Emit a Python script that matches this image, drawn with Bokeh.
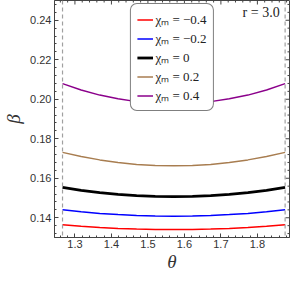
import math
from bokeh.plotting import figure
from bokeh.models import (Span, Label, Legend, LegendItem, Range1d,
                          BasicTicker, NumeralTickFormatter)
from bokeh.embed import file_html
from bokeh.resources import INLINE

theta = [1.266, 1.317, 1.368, 1.418, 1.469, 1.520, 1.571, 1.622, 1.672, 1.723, 1.774, 1.825, 1.876]
beta_m04 = [0.1365, 0.1357, 0.1351, 0.1346, 0.1343, 0.1341, 0.1340, 0.1341, 0.1343, 0.1346, 0.1351, 0.1357, 0.1365]
beta_m02 = [0.1440, 0.1430, 0.1422, 0.1416, 0.1411, 0.1409, 0.1408, 0.1409, 0.1411, 0.1416, 0.1422, 0.1430, 0.1440]
beta_0 = [0.1554, 0.1539, 0.1527, 0.1518, 0.1512, 0.1508, 0.1507, 0.1508, 0.1512, 0.1518, 0.1527, 0.1539, 0.1554]
beta_p02 = [0.1731, 0.1710, 0.1693, 0.1680, 0.1670, 0.1665, 0.1663, 0.1665, 0.1670, 0.1680, 0.1693, 0.1710, 0.1731]
beta_p04 = [0.2079, 0.2047, 0.2021, 0.2002, 0.1988, 0.1980, 0.1977, 0.1980, 0.1988, 0.2002, 0.2021, 0.2047, 0.2079]
labels = ["χₘ = −0.4", "χₘ = −0.2", "χₘ = 0", "χₘ = 0.2", "χₘ = 0.4"]
colors = ["#ff0000", "#0000ff", "#000000", "#a87d50", "#8b008b"]
widths = [1.5, 1.5, 2.8, 1.5, 1.5]
bounds = [1.266, 1.876]

# tick positions (for the mirrored top / right frame ticks)
x_major = [1.3, 1.4, 1.5, 1.6, 1.7, 1.8]
x_minor = [1.26, 1.28, 1.32, 1.34, 1.36, 1.38, 1.42, 1.44, 1.46, 1.48, 1.52, 1.54, 1.56, 1.58,
           1.62, 1.64, 1.66, 1.68, 1.72, 1.74, 1.76, 1.78, 1.82, 1.84, 1.86, 1.88]
y_major = [0.14, 0.16, 0.18, 0.20, 0.22, 0.24]
y_minor = [0.132, 0.136, 0.144, 0.148, 0.152, 0.156, 0.164, 0.168, 0.172, 0.176, 0.184, 0.188,
           0.192, 0.196, 0.204, 0.208, 0.212, 0.216, 0.224, 0.228, 0.232, 0.236, 0.244, 0.248]

XR = (1.244, 1.888)
YR = (0.13, 0.25)
AX = "#444444"

p = figure(width=292, height=275, output_backend="svg", toolbar_location=None,
           x_range=Range1d(*XR), y_range=Range1d(*YR),
           min_border_left=47, min_border_right=3, min_border_top=0, min_border_bottom=38)
p.background_fill_color = "white"
p.grid.visible = False
p.outline_line_color = AX
p.outline_line_width = 1

for ax in p.xaxis + p.yaxis:
    ax.major_tick_in = 4
    ax.major_tick_out = 0
    ax.minor_tick_in = 2
    ax.minor_tick_out = 0
    ax.axis_line_color = AX
    ax.major_tick_line_color = AX
    ax.minor_tick_line_color = AX
    ax.major_label_text_font = "Liberation Sans"
    ax.major_label_text_font_size = "11px"
    ax.major_label_text_color = "#333333"
    ax.axis_label_text_font = "Liberation Serif"
    ax.axis_label_text_font_style = "italic"
    ax.axis_label_text_font_size = "19px"
    ax.axis_label_text_color = "#333333"
    ax.major_label_standoff = 3

p.xaxis[0].ticker = BasicTicker(desired_num_ticks=7, num_minor_ticks=5)
p.yaxis[0].ticker = BasicTicker(desired_num_ticks=6, num_minor_ticks=5)
p.yaxis[0].formatter = NumeralTickFormatter(format="0.00")

p.xaxis[0].axis_label = "θ"
p.yaxis[0].axis_label = "β"
p.xaxis[0].axis_label_standoff = 0
p.xaxis[0].major_label_standoff = 2
p.yaxis[0].axis_label_standoff = 3

# mirrored ticks on the top and right frame edges (half of each dash is clipped by the frame)
p.scatter(x_major, [YR[1]] * len(x_major), marker="dash", angle=math.pi / 2, size=8,
          line_color=AX, line_width=1)
p.scatter(x_minor, [YR[1]] * len(x_minor), marker="dash", angle=math.pi / 2, size=4,
          line_color=AX, line_width=1)
p.scatter([XR[1]] * len(y_major), y_major, marker="dash", size=8, line_color=AX, line_width=1)
p.scatter([XR[1]] * len(y_minor), y_minor, marker="dash", size=4, line_color=AX, line_width=1)

for b in bounds:
    p.add_layout(Span(location=b, dimension="height", line_color="#a0a0a0",
                      line_dash="4 3", line_width=1.2))

series = [beta_m04, beta_m02, beta_0, beta_p02, beta_p04]
items = []
for s, lab, c, w in zip(series, labels, colors, widths):
    r = p.line(theta, s, line_color=c, line_width=w)
    items.append(LegendItem(label=lab, renderers=[r]))

legend = Legend(items=items, location="top_center")
legend.label_text_font = "Liberation Serif"
legend.label_text_font_size = "13px"
legend.label_text_color = "#222222"
legend.border_line_color = "black"
legend.border_line_width = 1.2
legend.border_radius = 7
legend.glyph_width = 16
legend.label_height = 13
legend.glyph_height = 13
legend.spacing = 1
legend.padding = 6
legend.margin = 3
legend.label_standoff = 3
legend.background_fill_color = "white"
legend.background_fill_alpha = 1
p.add_layout(legend, "center")

p.add_layout(Label(x=1.861, y=0.2441, text="r = 3.0", text_font="Liberation Serif",
                   text_font_size="14px", text_align="right", text_baseline="middle",
                   text_color="#222222"))

open("out.html", "w").write(file_html(p, INLINE))
